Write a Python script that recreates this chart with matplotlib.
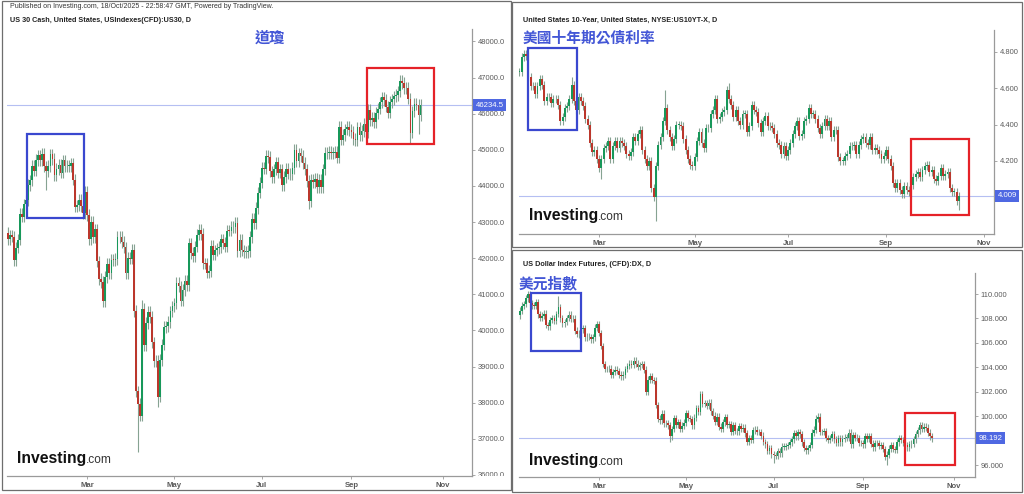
import numpy as np
import pandas as pd
import matplotlib
matplotlib.use('Agg')
import matplotlib.pyplot as plt
from matplotlib.patches import Rectangle
from matplotlib.transforms import Bbox, TransformedBbox

plt.rcParams['font.family'] = ['Liberation Sans', 'DejaVu Sans']
CJK = ['Noto Sans CJK TC', 'DejaVu Sans']

W, H = 1024, 494
GREEN = '#17985a'
RED = '#bb372c'
WICK = '#86a392'
BLUE_T = '#4356d6'

# ---- US 30 CFD, daily closes (all business days from 6 Jan 2025) ----
us30_close = [
    42706, 42528, 42635, 42600, 41938, 42297, 42518, 43221, 43153, 43488,
    43600, 44025, 44156, 44565, 44424, 44713, 44850, 44714, 44882, 44545,
    44421, 44556, 44873, 44747, 44303, 44470, 44593, 44368, 44711, 44546,
    44550, 44556, 44627, 44176, 43428, 43461, 43621, 43433, 43239, 43841,
    43191, 42520, 43006, 42579, 42801, 41911, 41433, 41350, 40813, 41488,
    41841, 41581, 41964, 41953, 41985, 42583, 42587, 42455, 42300, 41583, 42002,
    41989, 42225, 40545, 38315, 37966, 37646, 40608, 39594, 40213, 40525,
    40368, 39669, 39142, 39150, 38170, 39187, 39607, 40093, 40114, 40228, 40528, 40669,
    40753, 41317, 41219, 40829, 41114, 41368, 41250, 42410, 42140, 42051,
    42323, 42655, 42792, 42677, 41860, 41859, 41603, 41650, 42343, 42099, 42216, 42270,
    42305, 42520, 42427, 42320, 42763, 42762, 42867, 42866, 42968, 42198,
    42515, 42215, 42172, 42180, 42207, 42582, 43089, 42982, 43387, 43819, 44095,
    44495, 44484, 44829, 44800, 44406, 44241, 44458, 44651, 44372, 44460,
    44023, 44254, 44484, 44342, 44323, 44502, 45010, 44694, 44902, 44838, 44633, 44461, 44131,
    43589, 44174, 44112, 44193, 43969, 44176, 43975, 44459, 44922, 44911,
    44946, 44912, 44922, 44938, 44786, 45632, 45282, 45418, 45565, 45637, 45545,
    45500, 45296, 45271, 45621, 45401, 45515, 45711, 45490, 46108, 45834,
    45883, 45758, 46018, 46142, 46315, 46450, 46380, 46200, 46030, 46320, 46400, 46480,
    46520, 46620, 46900, 46850, 46700, 46720, 46420, 45480, 46068, 46270,
    46253, 45952, 46234.5,
]
us30_extremes = {'2025-01-10': (None, 41850), '2025-02-03': (None, 43880),
                 '2025-03-13': (None, 40680), '2025-04-07': (None, 36640),
                 '2025-04-09': (40850, None), '2025-04-21': (None, 37880),
                 '2025-08-01': (None, 43350), '2025-10-03': (47050, None),
                 '2025-10-10': (None, 45150), '2025-10-16': (None, 45450)}

# ---- US 10Y yield, daily closes (trading days from 6 Jan 2025) ----
tnx_close = [
    4.62, 4.69, 4.69, 4.69, 4.77, 4.79, 4.78, 4.66, 4.61, 4.61,
    4.57, 4.61, 4.65, 4.62, 4.53, 4.55, 4.55, 4.52, 4.54,
    4.54, 4.51, 4.42, 4.44, 4.49, 4.50, 4.54, 4.62, 4.53, 4.48,
    4.55, 4.53, 4.50, 4.43, 4.40, 4.30, 4.25, 4.26, 4.21,
    4.16, 4.21, 4.27, 4.28, 4.31, 4.21, 4.28, 4.31, 4.27, 4.31,
    4.30, 4.28, 4.24, 4.23, 4.25, 4.33, 4.31, 4.35, 4.37, 4.26, 4.21,
    4.17, 4.20, 4.05, 4.00, 4.17, 4.29, 4.33, 4.42, 4.49, 4.37,
    4.33, 4.28, 4.32, 4.40, 4.40, 4.39, 4.32, 4.26, 4.21, 4.18, 4.17,
    4.22, 4.31, 4.36, 4.30, 4.27, 4.38, 4.38, 4.46, 4.48, 4.54,
    4.43, 4.44, 4.47, 4.48, 4.59, 4.54, 4.51, 4.44, 4.48, 4.42, 4.40,
    4.46, 4.46, 4.36, 4.39, 4.51, 4.48, 4.47, 4.41, 4.36, 4.42,
    4.45, 4.39, 4.39, 4.38, 4.35, 4.30, 4.29, 4.24, 4.28, 4.23,
    4.26, 4.30, 4.35, 4.39, 4.42, 4.34, 4.35, 4.42, 4.43, 4.49,
    4.46, 4.46, 4.43, 4.38, 4.35, 4.39, 4.43, 4.39, 4.42, 4.33, 4.37, 4.37,
    4.22, 4.20, 4.20, 4.23, 4.24, 4.28, 4.28, 4.29, 4.24, 4.29,
    4.32, 4.33, 4.30, 4.29, 4.33, 4.26, 4.27, 4.26, 4.24, 4.21, 4.23,
    4.26, 4.21, 4.17, 4.08, 4.05, 4.08, 4.04, 4.02, 4.06, 4.04,
    4.03, 4.07, 4.11, 4.13, 4.14, 4.11, 4.15, 4.17, 4.18, 4.14, 4.15,
    4.10, 4.09, 4.12, 4.16, 4.12, 4.13, 4.14, 4.05, 4.03, 4.03, 3.98, 4.009,
]
tnx_holidays = ['2025-01-20', '2025-02-17', '2025-04-18', '2025-05-26',
                '2025-06-19', '2025-07-04', '2025-09-01', '2025-10-13']
tnx_extremes = {'2025-01-13': (4.81, None), '2025-02-12': (4.66, None),
                '2025-03-04': (None, 4.10), '2025-04-07': (None, 3.87),
                '2025-04-11': (4.59, None), '2025-05-22': (4.63, None),
                '2025-09-17': (None, 3.99), '2025-10-17': (None, 3.93)}

# ---- US Dollar Index futures, daily closes (all business days from 6 Jan 2025) ----
dxy_close = [
    108.26, 108.65, 109.05, 109.18, 109.65, 109.96, 109.24, 109.06, 109.02, 109.35,
    108.34, 108.05, 108.22, 108.40, 107.45, 107.35, 107.87, 108.00, 107.81, 108.37,
    108.92, 108.00, 107.60, 107.70, 108.04, 108.32, 107.95, 107.98, 107.00, 106.75,
    106.70, 107.10, 107.20, 106.45, 106.50, 106.47, 106.30, 106.45, 107.25, 107.55,
    106.80, 105.75, 104.28, 103.85, 103.85, 103.90, 103.40, 103.60, 103.80, 103.70,
    103.40, 103.25, 103.40, 103.85, 104.10, 104.30, 104.20, 104.55, 104.30, 104.05, 104.20,
    104.25, 103.80, 102.00, 103.00, 103.25, 102.95, 102.90, 100.90, 99.80, 99.65,
    100.20, 99.40, 99.40, 99.25, 98.35, 98.95, 99.85, 99.30, 99.50, 98.99, 99.22, 99.47,
    100.25, 99.85, 99.78, 99.25, 99.88, 100.65, 100.38, 101.80, 101.00, 101.05,
    100.85, 101.10, 100.40, 100.05, 99.55, 99.95, 99.15, 98.95, 99.50, 99.90, 99.30, 99.33,
    98.70, 99.25, 98.80, 98.75, 99.20, 98.95, 99.05, 98.60, 97.90, 98.20,
    98.05, 98.85, 98.90, 98.70, 98.70, 98.40, 97.90, 97.70, 97.15, 97.40, 96.88,
    96.80, 96.75, 97.15, 96.95, 97.50, 97.50, 97.55, 97.65, 97.85, 98.10,
    98.60, 98.35, 98.70, 98.50, 97.85, 97.40, 97.20, 97.40, 97.65, 98.65, 98.90, 99.80, 99.95,
    98.70, 98.70, 98.80, 98.20, 98.05, 98.20, 98.50, 98.10, 97.80, 98.20,
    97.85, 98.15, 98.25, 98.25, 98.65, 97.70, 98.45, 98.25, 98.20, 97.80, 97.80,
    97.70, 98.35, 98.15, 98.35, 97.75, 97.45, 97.80, 97.80, 97.55, 97.60,
    97.30, 96.65, 96.85, 97.35, 97.65, 97.30, 97.25, 97.85, 98.20, 98.05, 97.80, 97.60,
    97.45, 97.70, 97.75, 98.10, 98.55, 98.85, 99.25, 98.95, 99.15, 99.05, 98.65, 98.35, 98.192,
]
dxy_extremes = {'2025-01-06': (None, 107.7), '2025-01-13': (110.2, None),
                '2025-02-03': (109.8, None), '2025-04-21': (None, 97.9),
                '2025-07-01': (None, 96.2), '2025-07-31': (100.0, None),
                '2025-09-17': (None, 96.0), '2025-10-09': (99.45, None)}

month_ticks = [3, 5, 7, 9, 11]
month_names = ['Mar', 'May', 'Jul', 'Sep', 'Nov']

fig = plt.figure(figsize=(W / 100, H / 100), dpi=100)
fig.patch.set_facecolor('white')


def px_axes(x0, y0, x1, y1):
    return fig.add_axes([x0 / W, 1 - y1 / H, (x1 - x0) / W, (y1 - y0) / H])


def frame(x0, y0, x1, y1):
    fig.add_artist(Rectangle((x0 / W, 1 - y1 / H), (x1 - x0) / W, (y1 - y0) / H,
                             transform=fig.transFigure, fill=False,
                             ec='#6e6e6e', lw=0.9))


def candles(ax, closes, dates, first_open, wick, minbody, extremes):
    c = np.asarray(closes, float)
    o = np.r_[first_open, c[:-1]]
    hi = np.maximum(o, c) + wick
    lo = np.minimum(o, c) - wick
    pos = {d: i for i, d in enumerate(dates.strftime('%Y-%m-%d'))}
    for d, (h, l) in extremes.items():
        i = pos[d]
        if h is not None:
            hi[i] = max(hi[i], h)
        if l is not None:
            lo[i] = min(lo[i], l)
    x = np.arange(len(c))
    ax.vlines(x, lo, hi, color=WICK, lw=0.8, zorder=2)
    up = c >= o
    body = np.maximum(np.abs(c - o), minbody)
    ax.bar(x[up], body[up], bottom=o[up], width=0.85, color=GREEN, lw=0, zorder=3)
    ax.bar(x[~up], body[~up], bottom=c[~up] - (body[~up] - (o - c)[~up]) / 2,
           width=0.85, color=RED, lw=0, zorder=3)
    return c[-1]


def style(ax, dates, xlim, ylim, yticks, hidden, fmt, last, last_fmt):
    ax.set_xlim(*xlim)
    ax.set_ylim(*ylim)
    for s in ('left', 'top'):
        ax.spines[s].set_visible(False)
    for s in ('right', 'bottom'):
        ax.spines[s].set_color('#9a9a9a')
        ax.spines[s].set_linewidth(0.9)
    ax.yaxis.tick_right()
    ax.set_yticks(yticks)
    ax.set_yticklabels(['' if v in hidden else fmt % v for v in yticks])
    ax.tick_params(axis='y', length=2.5, width=0.6, colors='#9a9a9a',
                   labelcolor='#5a5a5a', labelsize=5.4, pad=1.5)
    xt = [int(np.argmax(dates.month == m)) for m in month_ticks]
    ax.set_xticks(xt)
    ax.set_xticklabels(month_names, fontweight='bold')
    ax.tick_params(axis='x', length=2.5, width=0.6, colors='#9a9a9a',
                   labelcolor='#5a5a5a', labelsize=5.6, pad=1.5)
    ax.axhline(last, color='#b5bff2', lw=0.8, zorder=1)
    ax.annotate(last_fmt % last, xy=(1, last), xycoords=('axes fraction', 'data'),
                xytext=(2.5, 0), textcoords='offset points', ha='left', va='center',
                fontsize=5.6, color='white', annotation_clip=False, zorder=10,
                bbox=dict(boxstyle='square,pad=0.3', fc='#4f68e2', ec='none'))
    ax.set_facecolor('none')


def logo(x, y):
    fig.text(x / W, 1 - y / H, 'Investing', fontsize=11.3, fontweight='bold',
             color='#111111', va='baseline', ha='left')
    fig.text((x + 69) / W, 1 - y / H, '.com', fontsize=8.6, color='#333333',
             va='baseline', ha='left')


def box(ax, x0, x1, y0, y1, color):
    ax.add_patch(Rectangle((x0, y0), x1 - x0, y1 - y0, fill=False, ec=color,
                           lw=1.6, zorder=6))


# frames
frame(2, 1, 511, 490)
frame(512, 2, 1022, 247)
frame(512, 250, 1022, 492)

# ---------------- left: US 30 ----------------
us30_dates = pd.bdate_range('2025-01-06', '2025-11-28')
ax1 = px_axes(7, 29, 472, 476)
last1 = candles(ax1, us30_close, us30_dates, 42600, 160, 18, us30_extremes)
style(ax1, us30_dates, (0.67, 229.3), (35972, 48346),
      list(range(36000, 48001, 1000)), [], '%.1f', last1, '%.1f')
box(ax1, 10.5, 38.5, 43114, 45439, '#3a48cf')
box(ax1, 177.7, 210.6, 45163, 47266, '#e52228')

fig.text(10 / W, 1 - 7 / H,
         'Published on Investing.com, 18/Oct/2025 - 22:58:47 GMT, Powered by TradingView.',
         fontsize=5.0, color='#333333', va='center', ha='left')
fig.text(10 / W, 1 - 20 / H, 'US 30 Cash, United States, USIndexes(CFD):US30, D',
         fontsize=5.2, fontweight='bold', color='#222222', va='center', ha='left')
fig.text(270 / W, 1 - 38 / H, '道瓊', family=CJK, fontsize=11, fontweight='bold',
         color=BLUE_T, va='center', ha='center')
logo(17, 463)

# ---------------- right top: US 10Y ----------------
tnx_dates = pd.bdate_range('2025-01-06', '2025-11-28', freq='C', holidays=tnx_holidays)
ax2 = px_axes(519, 30, 994, 234)
last2 = candles(ax2, tnx_close, tnx_dates, 4.60, 0.022, 0.003, tnx_extremes)
style(ax2, tnx_dates, (2.88, 211.4), (3.798, 4.921),
      [4.0, 4.2, 4.4, 4.6, 4.8], [4.0], '%.3f', last2, '%.3f')
box(ax2, 6.8, 28.3, 4.371, 4.822, '#3a48cf')
box(ax2, 175.0, 200.4, 3.903, 4.321, '#e52228')
fig.text(523 / W, 1 - 20 / H, 'United States 10-Year, United States, NYSE:US10YT-X, D',
         fontsize=5.2, fontweight='bold', color='#222222', va='center', ha='left')
fig.text(523 / W, 1 - 37 / H, '美國十年期公債利率', family=CJK, fontsize=10.6,
         fontweight='bold', color=BLUE_T, va='center', ha='left')
logo(529, 220)

# ---------------- right bottom: DXY ----------------
dxy_dates = pd.bdate_range('2025-01-06', '2025-11-28')
ax3 = px_axes(519, 273, 975, 477)
last3 = candles(ax3, dxy_close, dxy_dates, 108.1, 0.27, 0.04, dxy_extremes)
style(ax3, dxy_dates, (0.57, 225.3), (95.02, 111.72),
      list(range(96, 111, 2)), [98], '%.3f', last3, '%.3f')
box(ax3, 6.5, 31.1, 105.33, 110.08, '#3a48cf')
box(ax3, 190.8, 215.5, 96.0, 100.26, '#e52228')
fig.text(523 / W, 1 - 264 / H, 'US Dollar Index Futures, (CFD):DX, D',
         fontsize=5.2, fontweight='bold', color='#222222', va='center', ha='left')
fig.text(519 / W, 1 - 283 / H, '美元指數', family=CJK, fontsize=10.6,
         fontweight='bold', color=BLUE_T, va='center', ha='left')
logo(529, 465)

# clip tick labels at the axes edges the way the source chart cuts them
fig.canvas.draw()
for ax in (ax1, ax2, ax3):
    yclip = TransformedBbox(Bbox([[-0.5, 0], [1.5, 1]]), ax.transAxes)
    for lbl in ax.get_yticklabels():
        lbl.set_clip_box(yclip)
        lbl.set_clip_on(True)
    xclip = TransformedBbox(Bbox([[0, -0.5], [1, 1]]), ax.transAxes)
    for lbl in ax.get_xticklabels():
        lbl.set_clip_box(xclip)
        lbl.set_clip_on(True)

fig.savefig('out.png', dpi=100)
